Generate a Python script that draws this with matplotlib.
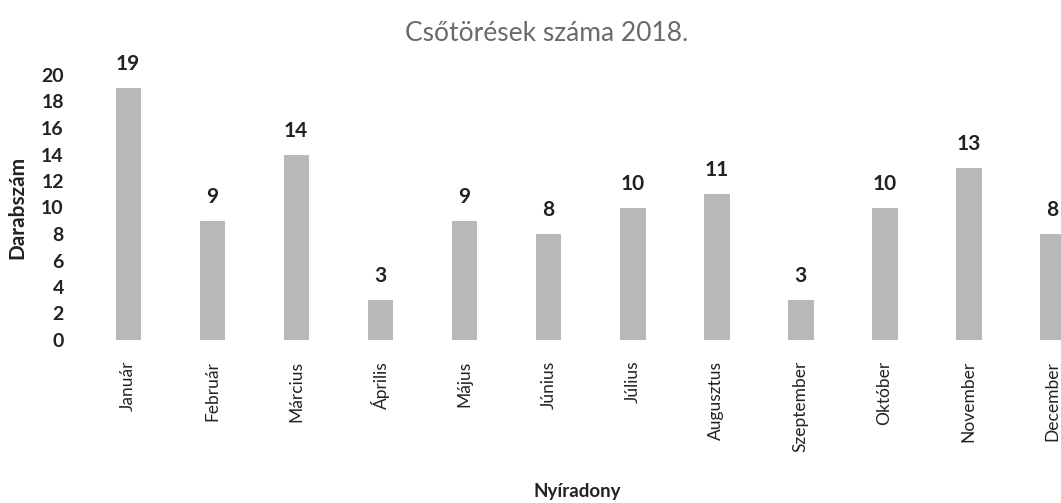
import matplotlib.pyplot as plt
import numpy as np

months = ['Január', 'Február', 'Március', 'Április', 'Május', 'Június',
          'Július', 'Augusztus', 'Szeptember', 'Október', 'November', 'December']
counts = [19, 9, 14, 3, 9, 8, 10, 11, 3, 10, 13, 8]
yticks = list(range(0, 21, 2))

plt.rcParams['font.family'] = ['Lato', 'DejaVu Sans']

W, H = 1061, 503
fig = plt.figure(figsize=(W / 100, H / 100), dpi=100)
ax = fig.add_axes([86 / W, (H - 340) / H, (W - 86) / W, 265 / H])

x = np.arange(len(months))
ax.bar(x, counts, width=0.29, color='#b8b8b8', edgecolor='#aaaaaa', linewidth=0.5)

for xi, v in zip(x, counts):
    ax.annotate(str(v), (xi, v), xytext=(0, 10), textcoords='offset points',
                ha='center', va='bottom', fontsize=15, fontweight='bold',
                color='#222222')

ax.set_xlim(-0.5, 11.1)
ax.set_ylim(0, 20)
ax.set_yticks(yticks)
ax.set_yticklabels([str(t) for t in yticks], fontsize=14, fontweight='bold',
                   color='#222222')
ax.set_xticks(x)
ax.set_xticklabels(months, rotation=90, fontsize=12.5, color='#222222')
ax.tick_params(axis='y', length=0, pad=16)
ax.tick_params(axis='x', length=0, pad=15)
for s in ax.spines.values():
    s.set_visible(False)

ax.set_ylabel('Darabszám', fontsize=15, fontweight='bold', color='#222222',
              labelpad=10)
fig.text(577 / W, 1 - 492 / H, 'Nyíradony', ha='center', va='center',
         fontsize=13.5, fontweight='bold', color='#222222')
fig.text(547 / W, 1 - 33 / H, 'Csőtörések száma 2018.', ha='center',
         va='center', fontsize=19, color='#6a6a6a')

fig.savefig('out.png', dpi=100)
